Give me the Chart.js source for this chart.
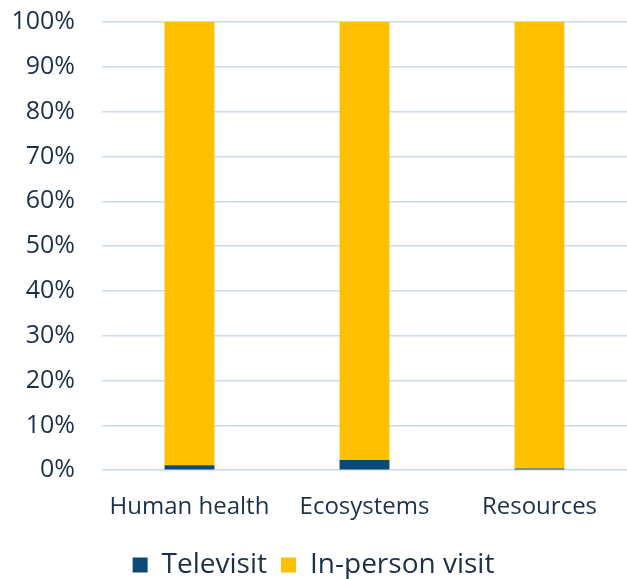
<!DOCTYPE html>
<html>
<head>
<meta charset="utf-8">
<script src="https://cdn.jsdelivr.net/npm/chart.js@4"></script>
<style>
  html, body { margin: 0; padding: 0; background: #fff; }
  #wrap { width: 627px; height: 579px; }
</style>
</head>
<body>
<div id="wrap"><canvas id="grafico"></canvas></div>
<script>
// datos
const categorias = ["Human health", "Ecosystems", "Resources"];
const televisita = [1.1, 2.3, 0.4];
const presencial = [98.9, 97.7, 99.6];
const ticksY = [0, 10, 20, 30, 40, 50, 60, 70, 80, 90, 100];

const colorTexto = "#1d3049";
const fuente = "'Open Sans', 'DejaVu Sans', sans-serif";

Chart.defaults.font.family = fuente;
Chart.defaults.color = colorTexto;

const ctx = document.getElementById("grafico").getContext("2d");
new Chart(ctx, {
  type: "bar",
  data: {
    labels: categorias,
    datasets: [
      { label: "Televisit", data: televisita, backgroundColor: "#0b4a78" },
      { label: "In-person visit", data: presencial, backgroundColor: "#ffc000" }
    ]
  },
  options: {
    responsive: true,
    maintainAspectRatio: false,
    animation: false,
    barPercentage: 0.285,
    categoryPercentage: 1,
    layout: { padding: { top: 22, right: 0, left: 0, bottom: -10 } },
    plugins: {
      tooltip: { enabled: false },
      legend: {
        position: "bottom",
        labels: {
          font: { size: 28 },
          boxWidth: 15,
          boxHeight: 15,
          padding: 14
        }
      }
    },
    scales: {
      x: {
        stacked: true,
        grid: { display: false },
        border: { display: false },
        ticks: { font: { size: 24 }, padding: 15, maxRotation: 0 }
      },
      y: {
        stacked: true,
        min: 0,
        max: 100,
        afterBuildTicks: axis => { axis.ticks = ticksY.map(v => ({ value: v })); },
        afterFit: axis => { axis.width = 102; axis.paddingTop = 0; },
        grid: { color: "#cdd9ee", lineWidth: 1.5, drawTicks: false },
        border: { display: false },
        ticks: {
          font: { size: 25 },
          padding: 27,
          callback: v => v + "%"
        }
      }
    }
  }
});
</script>
</body>
</html>
